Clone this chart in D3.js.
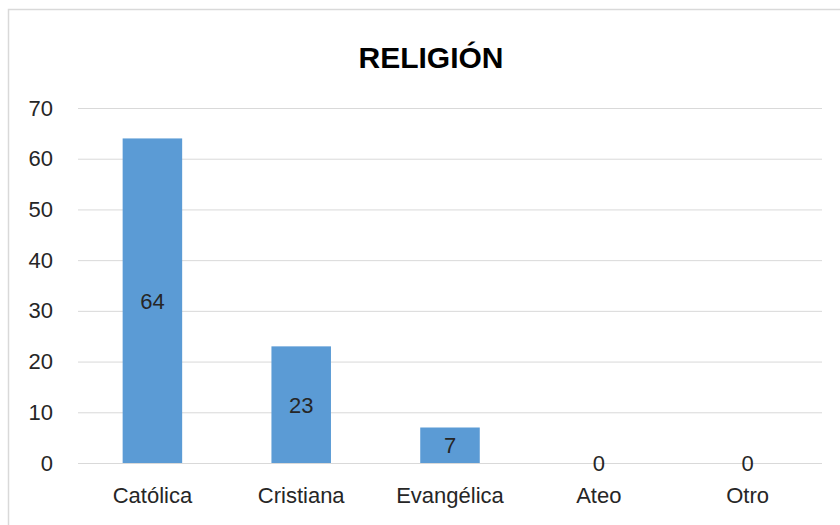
<!DOCTYPE html>
<html>
<head>
<meta charset="utf-8">
<script src="https://cdn.jsdelivr.net/npm/d3@7"></script>
<style>
  html, body { margin: 0; padding: 0; background: #ffffff; }
  svg { display: block; }
</style>
</head>
<body>
<svg id="chart" width="840" height="525"></svg>
<script>
const title = "RELIGIÓN";
const categories = ["Católica", "Cristiana", "Evangélica", "Ateo", "Otro"];
const values = [64, 23, 7, 0, 0];
const yTicks = [0, 10, 20, 30, 40, 50, 60, 70];

const svg = d3.select("#chart");
const W = 840, H = 525;
const margin = { left: 78, right: 18, top: 108, bottom: 62 };
const fontFamily = "'Liberation Sans', Arial, sans-serif";
const textColor = "#262626";

// Chart border
svg.append("rect")
  .attr("x", 8.5).attr("y", 9.5)
  .attr("width", W).attr("height", H)
  .attr("fill", "#ffffff")
  .attr("stroke", "#d9d9d9")
  .attr("stroke-width", 1.5);

const x = d3.scaleBand()
  .domain(categories)
  .range([margin.left, W - margin.right])
  .paddingInner(0.6)
  .paddingOuter(0.3);

const y = d3.scaleLinear()
  .domain([0, 70])
  .range([H - margin.bottom, margin.top]);

// Gridlines
const grid = d3.axisLeft(y)
  .tickValues(yTicks)
  .tickSize(-(W - margin.right - margin.left))
  .tickFormat("");
const gGrid = svg.append("g")
  .attr("transform", `translate(${margin.left},0)`)
  .call(grid);
gGrid.select(".domain").remove();
gGrid.selectAll(".tick line").attr("stroke", "#d9d9d9").attr("stroke-width", 1);

// Y axis labels
const yAxis = d3.axisLeft(y).tickValues(yTicks).tickSize(0).tickPadding(25);
const gY = svg.append("g")
  .attr("transform", `translate(${margin.left},0)`)
  .call(yAxis);
gY.select(".domain").remove();
gY.selectAll("text")
  .attr("font-family", fontFamily)
  .attr("font-size", 22)
  .attr("fill", textColor);

// Bars
svg.append("g").selectAll("rect")
  .data(categories)
  .join("rect")
  .attr("x", d => x(d))
  .attr("y", (d, i) => y(values[i]))
  .attr("width", x.bandwidth())
  .attr("height", (d, i) => y(0) - y(values[i]))
  .attr("fill", "#5b9bd5");

// Data labels (centered)
svg.append("g").selectAll("text")
  .data(categories)
  .join("text")
  .attr("x", d => x(d) + x.bandwidth() / 2)
  .attr("y", (d, i) => (y(values[i]) + y(0)) / 2)
  .attr("dy", "0.36em")
  .attr("text-anchor", "middle")
  .attr("font-family", fontFamily)
  .attr("font-size", 22)
  .attr("fill", textColor)
  .text((d, i) => values[i]);

// X axis labels
const xAxis = d3.axisBottom(x).tickSize(0).tickPadding(24);
const gX = svg.append("g")
  .attr("transform", `translate(0,${H - margin.bottom})`)
  .call(xAxis);
gX.select(".domain").remove();
gX.selectAll("text")
  .attr("font-family", fontFamily)
  .attr("font-size", 22)
  .attr("fill", textColor);

// Title
svg.append("text")
  .attr("x", 431)
  .attr("y", 68)
  .attr("text-anchor", "middle")
  .attr("font-family", fontFamily)
  .attr("font-weight", "bold")
  .attr("font-size", 30)
  .attr("fill", "#000000")
  .text(title);
</script>
</body>
</html>
